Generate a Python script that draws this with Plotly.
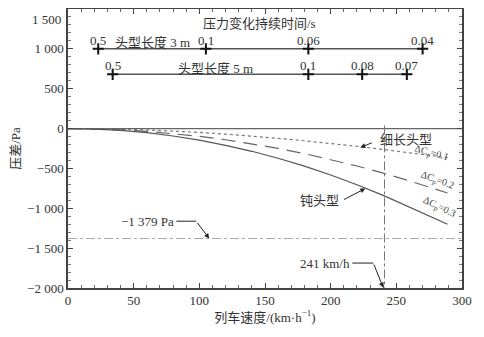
import plotly.graph_objects as go

# ---- data ----
speed = [0, 20, 40, 60, 80, 100, 120, 140, 160, 180, 200, 220, 240, 260, 289]
dp_blunt = [0, -6, -23, -52, -93, -145, -210, -285, -372, -471, -582, -704, -838, -984, -1200]   # ΔCp=0.3
dp_mid = [0, -4, -16, -35, -62, -97, -140, -190, -248, -314, -388, -469, -559, -656, -808]       # ΔCp=0.2
dp_slim = [0, -2, -8, -17, -31, -48, -70, -94, -122, -153, -186, -222, -262, -305, -365]         # ΔCp=0.1

len3_speed = [23, 105, 183, 270]
len3_labels = ["0.5", "0.1", "0.06", "0.04"]
len3_level = 1000
len5_speed = [34, 183, 224, 258]
len5_labels = ["0.5", "0.1", "0.08", "0.07"]
len5_level = 680

limit_pa = -1379
limit_speed = 241

xtick_vals = [0, 50, 100, 150, 200, 250, 300]
ytick_vals = [1500, 1000, 500, 0, -500, -1000, -1500, -2000]
ytick_text = ["1 500", "1 000", "500", "0", "−500", "−1 000", "−1 500", "−2 000"]

FONT = "Liberation Serif, Noto Sans CJK SC"
INK = "#333333"
LINE = "#555555"

fig = go.Figure()

# reference lines
fig.add_trace(go.Scatter(x=[0, 300], y=[0, 0], mode="lines",
                         line=dict(color="#666666", width=1.2), showlegend=False))
fig.add_trace(go.Scatter(x=[0, 300], y=[limit_pa, limit_pa], mode="lines",
                         line=dict(color="#aaaaaa", width=1.2, dash="dashdot"), showlegend=False))
fig.add_trace(go.Scatter(x=[limit_speed, limit_speed], y=[40, -2000], mode="lines",
                         line=dict(color="#777777", width=1, dash="dashdot"), showlegend=False))

# curves
fig.add_trace(go.Scatter(x=speed, y=dp_slim, mode="lines",
                         line=dict(color="#777777", width=1.2, dash="dot"), showlegend=False))
fig.add_trace(go.Scatter(x=speed, y=dp_mid, mode="lines",
                         line=dict(color="#666666", width=1.2, dash="14px,8px"), showlegend=False))
fig.add_trace(go.Scatter(x=speed, y=dp_blunt, mode="lines",
                         line=dict(color="#555555", width=1.2), showlegend=False))

# duration scales
fig.add_trace(go.Scatter(x=len3_speed, y=[len3_level] * len(len3_speed), mode="lines+markers",
                         line=dict(color=LINE, width=1.5),
                         marker=dict(symbol="cross-thin", size=8, line=dict(color="#111111", width=2)),
                         showlegend=False))
fig.add_trace(go.Scatter(x=len5_speed, y=[len5_level] * len(len5_speed), mode="lines+markers",
                         line=dict(color=LINE, width=1.5),
                         marker=dict(symbol="cross-thin", size=8, line=dict(color="#111111", width=2)),
                         showlegend=False))

ann = []
tf = dict(family=FONT, size=13, color=INK)
for sx, lab in zip(len3_speed, len3_labels):
    ann.append(dict(x=sx, y=len3_level + 100, text=lab, showarrow=False, font=tf, yanchor="middle"))
for sx, lab in zip(len5_speed, len5_labels):
    ann.append(dict(x=sx, y=len5_level + 110, text=lab, showarrow=False, font=tf, yanchor="middle"))
ann.append(dict(x=64, y=1085, text="头型长度 3 m", showarrow=False, font=tf))
ann.append(dict(x=112, y=755, text="头型长度 5 m", showarrow=False, font=tf))
ann.append(dict(x=146, y=1315, text="压力变化持续时间/s", showarrow=False, font=tf))

# top tick label drawn slightly below its tick, as in the reference
ann.append(dict(xref="paper", x=0, xanchor="right", xshift=-5, y=ytick_vals[0], yshift=-1,
                yanchor="top", text=ytick_text[0], showarrow=False, font=tf))

# curve labels
ann.append(dict(x=236, y=-137, text="细长头型", showarrow=False, font=tf, xanchor="left"))
ann.append(dict(x=222.6, y=-237, ax=232.5, ay=-171, axref="x", ayref="y", text="",
                showarrow=True, arrowhead=2, arrowsize=1, arrowwidth=1, arrowcolor="#222222"))
ann.append(dict(x=208, y=-900, text="钝头型", showarrow=False, font=tf, xanchor="right"))
ann.append(dict(x=226.4, y=-752, ax=209, ay=-900, axref="x", ayref="y", text="",
                showarrow=True, arrowhead=2, arrowsize=1, arrowwidth=1, arrowcolor="#222222"))

sf = dict(family=FONT, size=10, color="#444444")
ann.append(dict(x=277, y=-315, text="ΔC<sub>p</sub>=0.1", showarrow=False, font=sf, textangle=15))
ann.append(dict(x=281, y=-650, text="ΔC<sub>p</sub>=0.2", showarrow=False, font=sf, textangle=20))
ann.append(dict(x=283, y=-985, text="ΔC<sub>p</sub>=0.3", showarrow=False, font=sf, textangle=26))

# limit annotations
ann.append(dict(x=82, y=-1162, text="−1 379 Pa", showarrow=False, font=tf, xanchor="right"))
ann.append(dict(x=107.5, y=limit_pa, ax=97.6, ay=-1162, axref="x", ayref="y", text="",
                showarrow=True, arrowhead=2, arrowsize=1, arrowwidth=1, arrowcolor="#222222"))
ann.append(dict(x=216, y=-1687, text="241 km/h", showarrow=False, font=tf, xanchor="right"))
ann.append(dict(x=limit_speed - 1, y=-1995, ax=232.5, ay=-1687, axref="x", ayref="y", text="",
                showarrow=True, arrowhead=2, arrowsize=1, arrowwidth=1, arrowcolor="#222222"))

shapes = [
    dict(type="line", xref="x", yref="y", x0=82.5, x1=97.6, y0=-1162, y1=-1162,
         line=dict(color="#222222", width=1)),
    dict(type="line", xref="x", yref="y", x0=216.5, x1=232.5, y0=-1687, y1=-1687,
         line=dict(color="#222222", width=1)),
]

fig.update_layout(
    width=484, height=337,
    margin=dict(l=60, r=30, t=1, b=57),
    plot_bgcolor="white", paper_bgcolor="white",
    font=dict(family=FONT, size=13, color=INK),
    annotations=ann, shapes=shapes, showlegend=False,
)
fig.update_xaxes(range=[0, 300], tickvals=xtick_vals, showgrid=False, zeroline=False,
                 showline=True, linecolor="#444444", linewidth=1.5, mirror="ticks",
                 ticks="inside", ticklen=5, tickcolor="#444444", automargin=False,
                 minor=dict(dtick=10, ticks="inside", ticklen=3, tickcolor="#666666"),
                 tickfont=dict(family=FONT, size=13, color=INK),
                 title=dict(text="列车速度/(km·h<sup>−1</sup>)", font=dict(family=FONT, size=13, color=INK),
                            standoff=2))
fig.update_yaxes(range=[-2000, 1500], tickvals=ytick_vals, ticktext=[""] + ytick_text[1:], showgrid=False,
                 zeroline=False, showline=True, linecolor="#444444", linewidth=1.5, mirror="ticks",
                 ticks="inside", ticklen=5, tickcolor="#444444", automargin=False,
                 minor=dict(dtick=100, ticks="inside", ticklen=3, tickcolor="#777777"),
                 tickfont=dict(family=FONT, size=13, color=INK),
                 title=dict(text="压差/Pa", font=dict(family=FONT, size=13, color=INK), standoff=6))

fig.write_html("out.html")
